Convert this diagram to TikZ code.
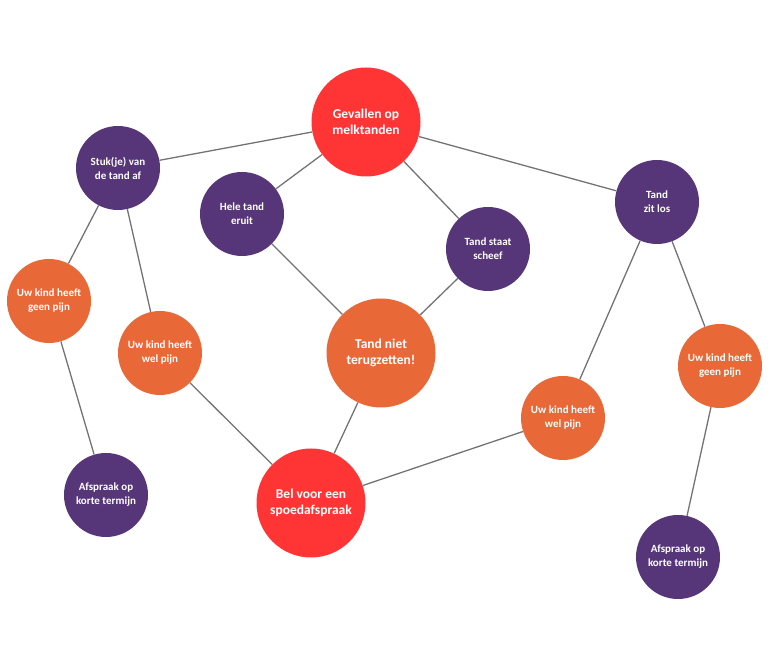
\documentclass[tikz,border=0pt]{standalone}
\usepackage{fontspec}
\setmainfont{Carlito}
\usepackage{xcolor}
\usetikzlibrary{shapes.geometric, positioning}
\definecolor{alarmred}{HTML}{FF3535}
\definecolor{darkpurple}{HTML}{563678}
\definecolor{warmorange}{HTML}{E86838}
\definecolor{linegray}{HTML}{737373}
\tikzstyle{urgent} = [circle, minimum size=109pt, inner sep=0pt, text centered, align=center, fill=alarmred, text=white, font=\bfseries\fontsize{13.5}{16.5}\selectfont]
\tikzstyle{action} = [circle, minimum size=84pt, inner sep=0pt, text centered, align=center, fill=darkpurple, text=white, font=\bfseries\fontsize{11}{14}\selectfont]
\tikzstyle{pain} = [circle, minimum size=84pt, inner sep=0pt, text centered, align=center, fill=warmorange, text=white, font=\bfseries\fontsize{11}{14}\selectfont]
\tikzstyle{link} = [draw=linegray, line width=1.3pt]

\begin{document}
\begin{tikzpicture}[x=1pt, y=1pt]
\useasboundingbox (0,0) rectangle (768,666);

% Top
\node (gevallen) [urgent] at (366,544) {Gevallen op\\melktanden};

% Left branch
\node (stuk-af) [action] at (118,498) {Stuk(je) van\\de tand af};
\node (geen-pijn-l) [pain] at (49,365) {Uw kind heeft\\geen pijn};
\node (wel-pijn-l) [pain] at (160,313) {Uw kind heeft\\wel pijn};
\node (afspraak-l) [action] at (106,171) {Afspraak op\\korte termijn};

% Middle
\node (hele-tand) [action] at (242,452) {Hele tand\\eruit};
\node (scheef) [action] at (488,417) {Tand staat\\scheef};
\node (niet-terug) [pain, minimum size=109pt, font=\bfseries\fontsize{13.5}{16.5}\selectfont] at (381,313) {Tand niet\\terugzetten!};
\node (bel) [urgent] at (311,163) {Bel voor een\\spoedafspraak};

% Right branch
\node (los) [action] at (657,464) {Tand\\zit los};
\node (geen-pijn-r) [pain] at (720,300) {Uw kind heeft\\geen pijn};
\node (wel-pijn-r) [pain] at (563,248) {Uw kind heeft\\wel pijn};
\node (afspraak-r) [action] at (678,109) {Afspraak op\\korte termijn};

% Connections
\draw [link] (gevallen) -- (stuk-af);
\draw [link] (gevallen) -- (hele-tand);
\draw [link] (gevallen) -- (scheef);
\draw [link] (gevallen) -- (los);
\draw [link] (stuk-af) -- (geen-pijn-l);
\draw [link] (stuk-af) -- (wel-pijn-l);
\draw [link] (geen-pijn-l) -- (afspraak-l);
\draw [link] (wel-pijn-l) -- (bel);
\draw [link] (hele-tand) -- (niet-terug);
\draw [link] (scheef) -- (niet-terug);
\draw [link] (niet-terug) -- (bel);
\draw [link] (los) -- (wel-pijn-r);
\draw [link] (los) -- (geen-pijn-r);
\draw [link] (wel-pijn-r) -- (bel);
\draw [link] (geen-pijn-r) -- (afspraak-r);

\end{tikzpicture}
\end{document}
